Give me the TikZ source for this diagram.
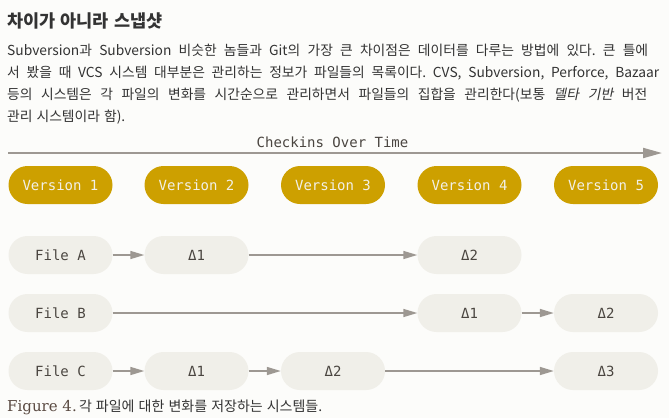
\documentclass[tikz,border=0pt]{standalone}
\usepackage{fontspec}
\setmainfont{Noto Sans CJK KR}
\newfontfamily\kr{Noto Sans CJK KR}[WordSpace=1.35]
\newfontfamily\krhead{Noto Sans CJK KR}[WordSpace=1.4]
\newfontfamily\krcap{Noto Sans CJK KR}[WordSpace=1.3]
\newfontfamily\krit{Noto Sans CJK KR}[FakeSlant=0.2,WordSpace=1.35]
\newfontfamily\mono{DejaVu Sans Mono}
\newfontfamily\capserif{DejaVu Serif}
\usetikzlibrary{arrows.meta}
\frenchspacing
\definecolor{bgcol}{HTML}{FCFCFA}
\definecolor{gold}{HTML}{CDA000}
\definecolor{vertext}{HTML}{F2F0E8}
\definecolor{pillfill}{HTML}{F0EFE9}
\definecolor{pilltext}{HTML}{4A4540}
\definecolor{linecol}{HTML}{9D9892}
\definecolor{bodytext}{HTML}{333333}
\definecolor{figcol}{HTML}{5A4A42}
\tikzset{
  pill/.style={rounded corners=19pt, minimum width=104pt, minimum height=38pt, inner sep=0pt, font=\mono\fontsize{14}{16}\selectfont},
  verpill/.style={pill, fill=gold, text=vertext},
  filepill/.style={pill, fill=pillfill, text=pilltext},
  conn/.style={draw=linecol, line width=1.5pt, -{Triangle[length=14pt,width=8pt]}},
  para/.style={anchor=base west, inner sep=0pt, text=bodytext, font=\kr\fontsize{13.8}{16}\selectfont},
}
\begin{document}
\frenchspacing
\begin{tikzpicture}[x=1pt,y=-1pt]
\fill[bgcol] (0,0) rectangle (669,418);
\useasboundingbox (0,0) rectangle (669,418);

% header text
\node[anchor=base west, inner sep=0pt, text=bodytext, font=\krhead\bfseries\fontsize{17.5}{20}\selectfont] (head) at (7,27) {차이가 아니라 스냅샷};
\node[para] (l1) at (7,55) {\makebox[641pt][s]{Subversion과 Subversion 비슷한 놈들과 Git의 가장 큰 차이점은 데이터를 다루는 방법에 있다. 큰 틀에}};
\node[para] (l2) at (7,77) {\makebox[652pt][s]{서 봤을 때 VCS 시스템 대부분은 관리하는 정보가 파일들의 목록이다. CVS, Subversion, Perforce, Bazaar}};
\node[para] (l3) at (7,99) {\makebox[640pt][s]{등의 시스템은 각 파일의 변화를 시간순으로 관리하면서 파일들의 집합을 관리한다(보통 {\krit 델타 기반} 버전}};
\node[para] (l4) at (7,121) {관리 시스템이라 함).};

% time axis
\node[inner sep=0pt, text=pilltext, font=\mono\fontsize{14}{16}\selectfont] (title) at (332.5,142) {Checkins Over Time};
\coordinate (tl) at (8,153);
\coordinate (tr) at (662,153);
\draw[draw=linecol, line width=2pt, -{Triangle[length=19pt,width=10pt]}] (tl) -- (tr);

% versions
\node[verpill] (v1) at (60.5,185) {Version 1};
\node[verpill] (v2) at (196.5,185) {Version 2};
\node[verpill] (v3) at (333,185) {Version 3};
\node[verpill] (v4) at (469.5,185) {Version 4};
\node[verpill] (v5) at (606,185) {Version 5};

% row A
\node[filepill] (fa) at (60.5,255) {File A};
\node[filepill] (a1) at (196.5,255) {Δ1};
\node[filepill] (a2) at (469.5,255) {Δ2};
% row B
\node[filepill] (fb) at (60.5,313) {File B};
\node[filepill] (b1) at (469.5,313) {Δ1};
\node[filepill] (b2) at (606,313) {Δ2};
% row C
\node[filepill] (fc) at (60.5,371) {File C};
\node[filepill] (c1) at (196.5,371) {Δ1};
\node[filepill] (c2) at (333,371) {Δ2};
\node[filepill] (c3) at (606,371) {Δ3};

\draw[conn] (fa) -- (a1);
\draw[conn] (a1) -- (a2);
\draw[conn] (fb) -- (b1);
\draw[conn] (b1) -- (b2);
\draw[conn] (fc) -- (c1);
\draw[conn] (c1) -- (c2);
\draw[conn] (c2) -- (c3);

% caption
\node[anchor=base west, inner sep=0pt] (cap) at (7,411) {{\capserif\fontsize{15}{17}\selectfont\color{figcol}Figure 4.} {\krcap\fontsize{14}{16}\selectfont\color{bodytext}각 파일에 대한 변화를 저장하는 시스템들.}};
\end{tikzpicture}
\end{document}
